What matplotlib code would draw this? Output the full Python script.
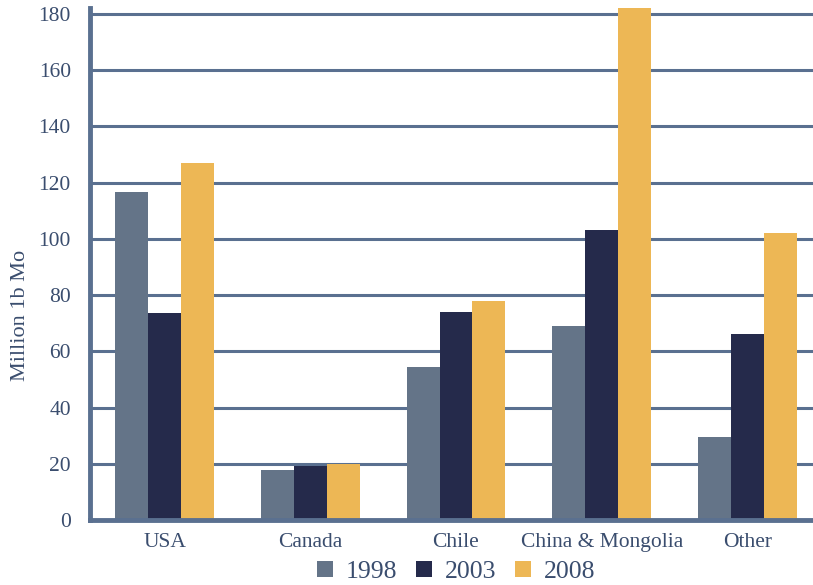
import matplotlib.pyplot as plt
import numpy as np

# data
regions = ["USA", "Canada", "Chile", "China & Mongolia", "Other"]
years = ["1998", "2003", "2008"]
prod_1998 = [116.5, 17.8, 54.5, 69, 29.5]
prod_2003 = [73.5, 19.3, 74, 103.3, 66]
prod_2008 = [127, 20, 77.8, 182, 102]
yticks = [0, 20, 40, 60, 80, 100, 120, 140, 160, 180]

colors = ["#647488", "#252a4b", "#edb755"]
text_col = "#3a4d6e"
axis_col = "#5a7090"

plt.rcParams['font.family'] = ['Liberation Serif', 'DejaVu Serif']

fig = plt.figure(figsize=(8.13, 5.85), dpi=100)
ax = fig.add_axes([0.111, 0.111, 0.889, 0.875])

x = np.arange(len(regions))
w = 0.226
for i, (vals, yr) in enumerate(zip([prod_1998, prod_2003, prod_2008], years)):
    ax.bar(x + (i - 1) * w, vals, w, color=colors[i], label=yr, zorder=3)

ax.set_xlim(-0.51, 4.45)
ax.set_ylim(0, 182)
ax.set_yticks(yticks)
ax.set_xticks(x)
ax.set_xticklabels(regions)
ax.tick_params(axis='both', length=0, labelsize=15.5, colors=text_col)
ax.tick_params(axis='y', pad=14)
ax.tick_params(axis='x', pad=9)
ax.grid(axis='y', color=axis_col, linewidth=2.2, zorder=1)
ax.set_axisbelow(True)

for s in ["top", "right"]:
    ax.spines[s].set_visible(False)
for s in ["left", "bottom"]:
    ax.spines[s].set_color(axis_col)
    ax.spines[s].set_linewidth(3.5)
    ax.spines[s].set_zorder(4)

ax.set_ylabel("Million 1b Mo", fontsize=16, color=text_col)
ax.yaxis.set_label_coords(-0.084, 0.4)

leg = fig.legend(*ax.get_legend_handles_labels(), loc='center',
                 bbox_to_anchor=(456 / 813, 1 - 572 / 585), ncol=3,
                 frameon=False, fontsize=18.5, handlelength=0.6, handleheight=0.6,
                 handletextpad=0.5, columnspacing=0.75, borderpad=0)
for t in leg.get_texts():
    t.set_color(text_col)

plt.savefig("out.png", dpi=100)
